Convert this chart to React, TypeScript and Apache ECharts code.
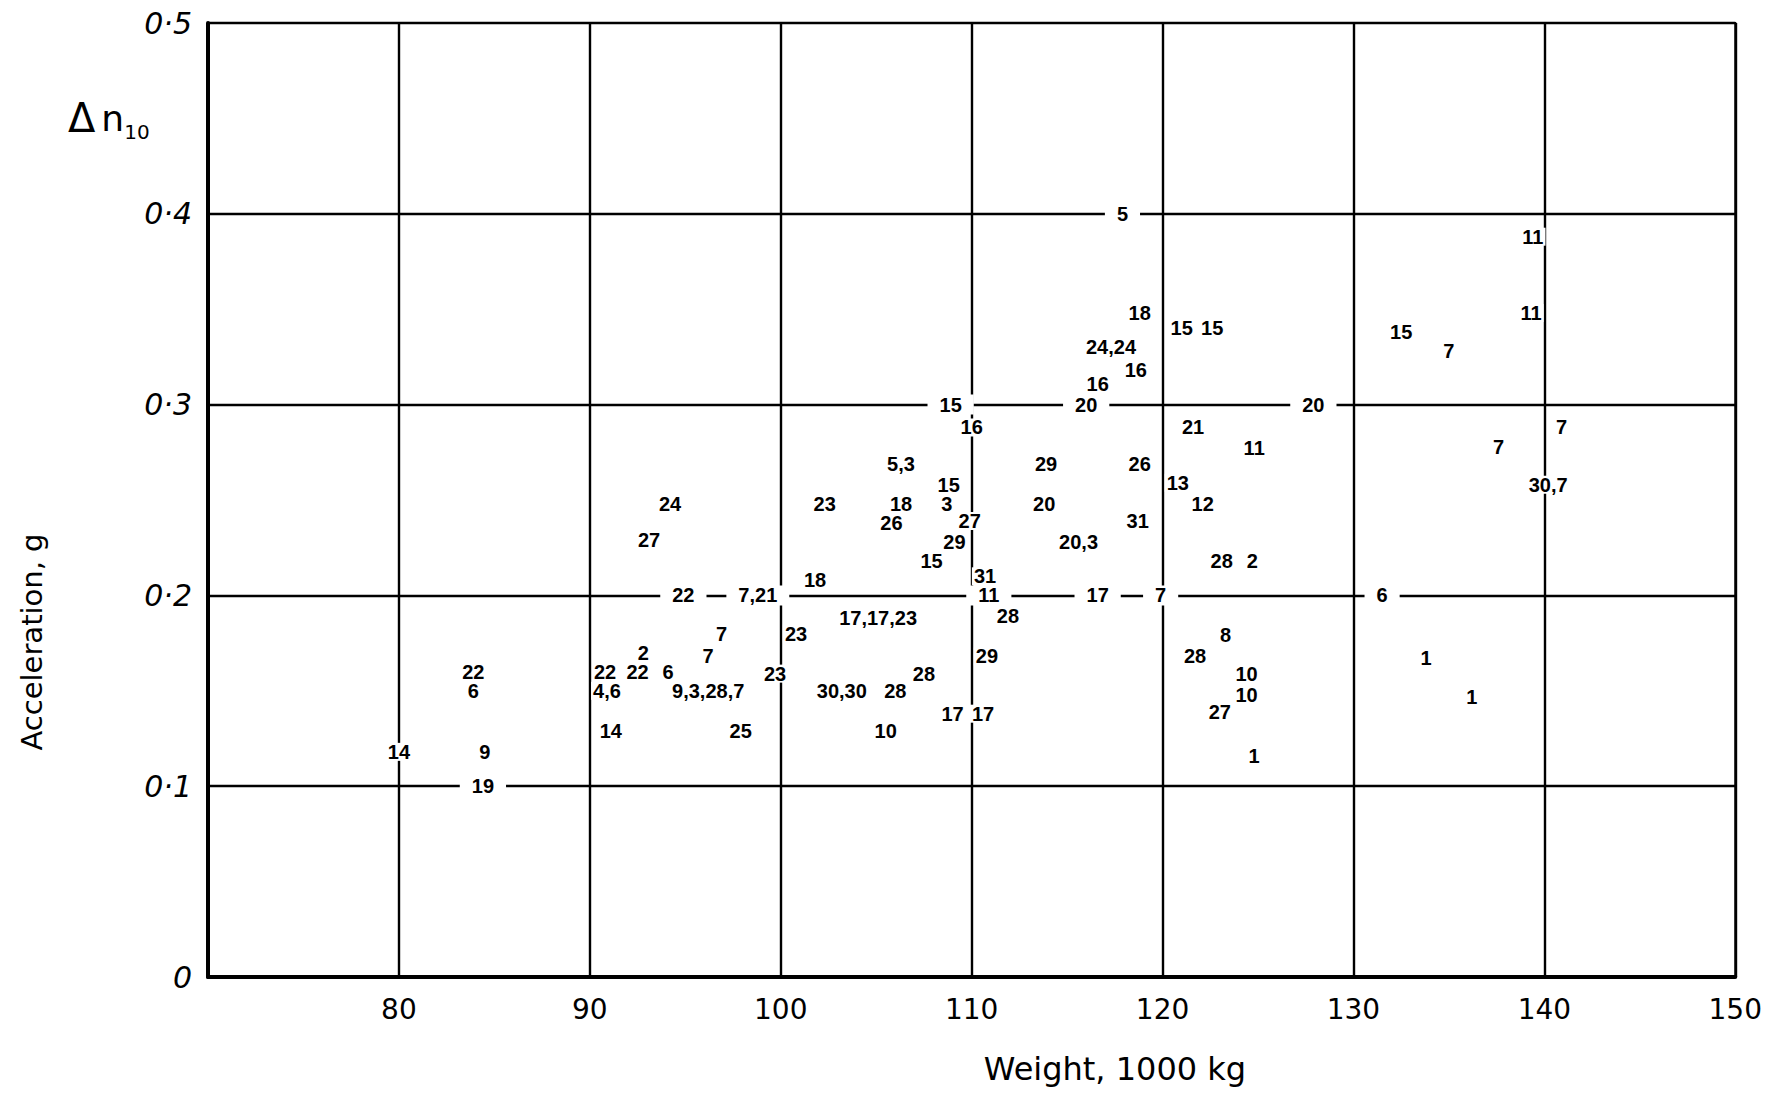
import React, { useEffect, useRef } from "react";
import * as echarts from "echarts";

// Data: each point is a flight-number label drawn at (weight, acceleration)
const pointLabels = [
  "5", "11", "11", "18", "15", "15", "24,24", "16", "16", "15", "7",
  "15", "20", "20", "16", "21", "11", "7", "7", "30,7",
  "5,3", "29", "26", "15", "13",
  "24", "23", "18", "3", "20", "12",
  "26", "27", "31", "27", "29", "20,3", "15", "28", "2",
  "31", "18", "22", "7,21", "11", "17", "7", "6",
  "17,17,23", "28", "23", "7", "8", "7", "29", "28", "1",
  "22", "22", "22", "6", "23", "28", "10",
  "6", "4,6", "9,3,28,7", "30,30", "28", "10", "1",
  "27", "17", "17", "14", "25", "10", "14", "9", "1", "19", "2",
];
const weights = [
  117.9, 139.4, 139.3, 118.8, 121.0, 122.6, 117.3, 118.6, 116.6, 132.5, 135.0,
  108.9, 116.0, 127.9, 110.0, 121.6, 124.8, 137.6, 140.9, 140.2,
  106.3, 113.9, 118.8, 108.8, 120.8,
  94.2, 102.3, 106.3, 108.7, 113.8, 122.1,
  105.8, 109.9, 118.7, 93.1, 109.1, 115.6, 107.9, 123.1, 124.7,
  110.7, 101.8, 94.9, 98.8, 110.9, 116.6, 119.9, 131.5,
  105.1, 111.9, 100.8, 96.9, 123.3, 96.2, 110.8, 121.7, 133.8,
  83.9, 90.8, 92.5, 94.1, 99.7, 107.5, 124.4,
  83.9, 90.9, 96.2, 103.2, 106.0, 124.4, 136.2,
  123.0, 109.0, 110.6, 91.1, 97.9, 105.5, 80.0, 84.5, 124.8, 84.4, 92.8,
];
const accelerations = [
  0.4, 0.388, 0.348, 0.348, 0.34, 0.34, 0.33, 0.318, 0.311, 0.338, 0.328,
  0.3, 0.3, 0.3, 0.288, 0.288, 0.277, 0.278, 0.288, 0.258,
  0.269, 0.269, 0.269, 0.258, 0.259,
  0.248, 0.248, 0.248, 0.248, 0.248, 0.248,
  0.238, 0.239, 0.239, 0.229, 0.228, 0.228, 0.218, 0.218, 0.218,
  0.21, 0.208, 0.2, 0.2, 0.2, 0.2, 0.2, 0.2,
  0.188, 0.189, 0.18, 0.18, 0.179, 0.168, 0.168, 0.168, 0.167,
  0.16, 0.16, 0.16, 0.16, 0.159, 0.159, 0.159,
  0.15, 0.15, 0.15, 0.15, 0.15, 0.148, 0.147,
  0.139, 0.138, 0.138, 0.129, 0.129, 0.129, 0.118, 0.118, 0.116, 0.1, 0.17,
];
const yTickLabels = ["0", "0·1", "0·2", "0·3", "0·4", "0·5"];
const xTickValues = [80, 90, 100, 110, 120, 130, 140, 150];

const xTitle = "Weight, 1000 kg";
const yTitle = "Acceleration, g";

export default function App() {
  const ref = useRef<HTMLDivElement>(null);
  useEffect(() => {
    if (!ref.current) return;
    const chart = echarts.init(ref.current, null, { renderer: "svg" });
    const onGrid = (a: number) => Math.abs(a * 10 - Math.round(a * 10)) < 1e-6;
    const data = pointLabels.map((name, i) => ({
      name,
      value: [weights[i], accelerations[i]],
      label: {
        padding: onGrid(accelerations[i]) ? [1, 12, 1, 12] : [0, 2, 0, 2],
      },
    }));
    const font = "DejaVu Sans";
    const labelFont = "Liberation Sans";
    chart.setOption({
      animation: false,
      backgroundColor: "#ffffff",
      grid: {
        left: 208,
        right: 24,
        top: 23,
        bottom: 118,
        show: true,
        borderColor: "#000",
        borderWidth: 2,
      },
      xAxis: {
        type: "value",
        min: 70,
        max: 150,
        interval: 10,
        axisLine: { show: true, lineStyle: { color: "#000", width: 4 } },
        axisTick: { show: false },
        splitLine: { show: true, lineStyle: { color: "#000", width: 2.4 } },
        axisLabel: {
          margin: 18,
          fontFamily: font,
          fontSize: 28,
          color: "#000",
          formatter: (v: number) => (xTickValues.includes(v) ? String(v) : ""),
        },
      },
      yAxis: {
        type: "value",
        min: 0,
        max: 0.5,
        interval: 0.1,
        axisLine: { show: true, lineStyle: { color: "#000", width: 4 } },
        axisTick: { show: false },
        splitLine: { show: true, lineStyle: { color: "#000", width: 2.4 } },
        axisLabel: {
          margin: 16,
          fontFamily: font,
          fontStyle: "italic",
          fontSize: 30,
          color: "#000",
          formatter: (v: number) => yTickLabels[Math.round(v * 10)] ?? "",
        },
      },
      series: [
        {
          type: "scatter",
          symbolSize: 0,
          itemStyle: { opacity: 1 },
          data,
          label: {
            show: true,
            position: "inside",
            formatter: "{b}",
            fontFamily: labelFont,
            fontWeight: "bold",
            fontSize: 20,
            lineHeight: 18,
            color: "#000",
            opacity: 1,
            textBorderWidth: 0,
            backgroundColor: "#ffffff",
          },
          emphasis: { disabled: true },
          z: 5,
        },
      ],
      graphic: [
        {
          type: "text",
          x: 32,
          y: 642,
          rotation: Math.PI / 2,
          style: {
            text: yTitle,
            fontFamily: font,
            fontSize: 29,
            fill: "#000",
            align: "center",
            verticalAlign: "middle",
          },
        },
        {
          type: "text",
          x: 1115,
          y: 1069,
          style: {
            text: xTitle,
            fontFamily: font,
            fontSize: 32,
            fill: "#000",
            align: "center",
            verticalAlign: "middle",
          },
        },
        {
          type: "text",
          x: 68,
          y: 118,
          style: {
            text: "{d|Δ}{n|n}{s|10}",
            verticalAlign: "middle",
            rich: {
              d: { fontFamily: font, fontSize: 40, fill: "#000", padding: [0, 6, 0, 0] },
              n: { fontFamily: font, fontSize: 36, fill: "#000" },
              s: { fontFamily: font, fontSize: 20, fill: "#000", padding: [28, 0, 0, 0] },
            },
          },
        },
      ],
    });
    return () => chart.dispose();
  }, []);
  return (
    <div
      ref={ref}
      style={{ position: "absolute", left: 0, top: 0, width: 1765, height: 1095 }}
    />
  );
}
